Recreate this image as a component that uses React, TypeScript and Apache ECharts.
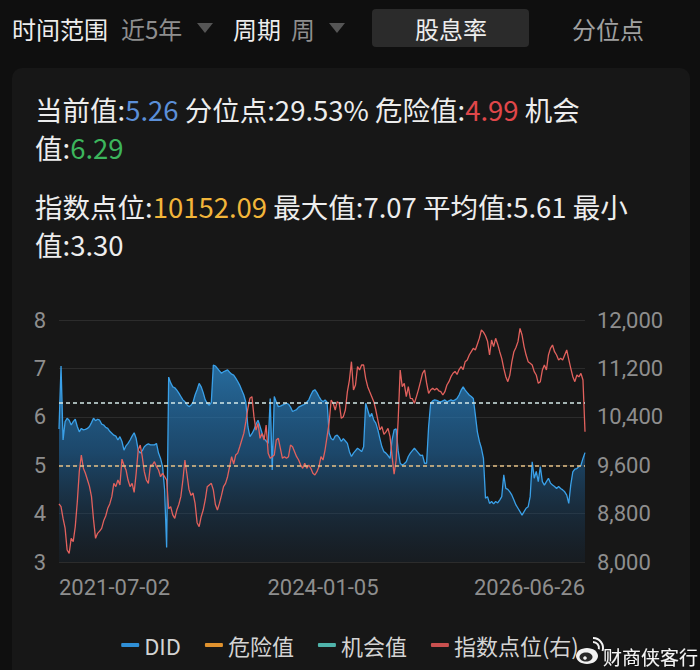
import React, { useEffect, useRef } from "react";
import * as echarts from "echarts";

const FONT = "'Noto Sans CJK SC', 'Noto Sans', sans-serif";
const NUM_FONT = "Roboto, 'Noto Sans', sans-serif";

const DID_A = [5.75,7.05,5.52,5.9,5.97,5.93,5.83,5.9,5.95,5.8,5.69,5.76,5.73,5.74,5.76,5.8,5.88,5.97,5.92,5.95,
  5.93,5.85,5.83,5.78,5.76,5.7,5.66,5.62,5.6,5.52,5.59,5.49,5.31,5.4,5.45,5.52,5.6,5.67,5.55,5.31,
  5.25,5.3,5.38,5.42,5.44,5.42,5.42,5.42,5.45,5.25,5.14,4.97,4.49,3.3,6.82,6.7,6.62,6.6,6.55,6.49,
  6.42,6.35,6.31,6.25,6.21,6.24,6.3,6.45,6.56,6.69,6.62,6.5,6.35,6.28,6.24,6.3,7.07,7.05,7.0,6.95];
const DID_B = [6.9,6.93,6.95,6.97,6.92,6.88,6.86,6.8,6.73,6.65,6.55,6.45,6.3,5.8,5.59,5.65,5.73,5.85,5.93,5.8,
  5.66,5.55,5.5,5.45,6.38,4.9,6.42,6.3,6.21,6.22,6.24,6.26,6.28,6.26,6.2,6.11,6.13,6.15,6.2,6.22,
  6.24,6.26,6.3,6.35,6.45,6.53,6.56,6.5,6.42,6.35,6.31,6.35,6.3,5.66,5.55,5.52,5.6,5.62,5.57,5.49,
  5.55,5.5,5.45,5.28,5.18,5.25,5.3,5.35,5.32,5.28,5.38,6.28,6.14,6.0,6.07,5.93,5.87,5.73,5.55,5.38];
const DID_C = [5.28,5.25,5.2,5.14,5.52,5.73,5.75,5.3,5.04,5.0,5.03,5.07,5.18,5.25,5.3,5.35,5.3,5.25,5.2,5.21,
  5.04,5.04,5.8,6.28,6.33,6.35,6.34,6.32,6.31,6.33,6.35,6.31,6.33,6.35,6.33,6.35,6.38,6.45,6.55,6.62,
  6.55,6.5,6.45,6.42,6.38,6.04,5.69,5.49,5.35,5.14,4.32,4.35,4.21,4.25,4.2,4.25,4.22,4.28,4.35,4.8,
  4.52,4.5,4.45,4.38,4.28,4.18,4.11,4.04,3.97,4.04,4.11,4.14,4.35,5.07,4.73,4.87,4.66,4.97,4.66,4.59];
const DID_D = [4.66,4.73,4.63,4.59,4.56,4.52,4.56,4.52,4.49,4.45,4.38,4.21,4.6,4.86,4.92,4.93,4.97,5.0,5.14,5.26];
const DID = [...DID_A, ...DID_B, ...DID_C, ...DID_D];

const IDX_A = [8960,8914,8720,8560,8198,8143,8391,8336,8583,8990,9500,9768,9550,9466,9360,9250,9080,8700,8391,8474,
  8510,8557,8680,8760,8887,8960,9080,9300,9245,9355,9273,9700,9600,9521,9355,9245,9300,9150,9466,9851,
  9934,9740,9493,9355,9300,9600,9603,9658,9576,9520,9410,9466,9410,9355,8880,8914,8780,8720,8859,8950,
  9080,9355,9686,9450,9200,9100,9140,8969,8650,8583,8749,8859,9025,9245,9273,9300,9190,8950,8859,8969];
const IDX_B = [9100,9245,9300,9410,9576,9741,9620,9768,9800,9906,10016,10126,10320,10540,10705,10733,10402,10181,10292,10044,
  10126,10016,10264,9796,9714,9741,9768,10016,10044,9879,9714,9741,9714,9741,9934,9906,9824,9741,9686,9603,
  9548,9631,9548,9603,9548,9466,9438,9493,9576,9741,9686,9851,10071,10300,10678,10623,10512,10650,10623,10375,
  10402,10512,10815,11008,11311,10843,10926,11229,11174,11256,11256,11036,10898,10815,10733,10650,10512,10347,10182,10237];
const IDX_C = [10110,10150,10209,10072,9750,9450,9686,10347,11174,10900,10953,10733,10898,10705,10700,10623,10733,10850,10981,11118,
  11174,10960,10788,10843,10870,10843,10870,10830,10815,10760,10815,10926,10981,11063,11120,11150,11100,11180,11230,11180,
  11311,11340,11421,11476,11532,11504,11600,11700,11835,11800,11740,11650,11421,11669,11559,11697,11600,11476,11366,11200,
  11063,10981,11091,11311,11476,11545,11642,11862,11752,11560,11421,11311,11284,11256,11146,11091,10953,10981,11173,11256];
const IDX_D = [11173,11421,11532,11587,11476,11421,11339,11366,11339,11421,11504,11350,11201,11063,10981,11091,11060,11118,11008,10152.09];
const INDEX = [...IDX_A, ...IDX_B, ...IDX_C, ...IDX_D];

const DANGER = 4.99;
const CHANCE = 6.29;
const LABEL_DATES = ["2021-07-02", "2024-01-05", "2026-06-26"];
const SKIPPED_WEEK = "2022-02-04";
const LEFT_TICKS = { min: 3, max: 8, interval: 1 };
const RIGHT_TICKS = { min: 8000, max: 12000, interval: 800 };
const LEGEND_NAMES = ["DID", "危险值", "机会值", "指数点位(右)"];

function buildDates(n: number): string[] {
  const out: string[] = [];
  let t = Date.UTC(2021, 6, 2);
  while (out.length < n) {
    const s = new Date(t).toISOString().slice(0, 10);
    if (s !== SKIPPED_WEEK) out.push(s);
    t += 7 * 86400000;
  }
  return out;
}
const DATES = buildDates(DID.length);

export default function App() {
  const ref = useRef<HTMLDivElement>(null);
  useEffect(() => {
    if (!ref.current) return;
    const chart = echarts.init(ref.current, undefined, { renderer: "svg" });
    const white = "#ededed";
    const gray = "#8e8e8e";
    const F = 27.5;
    const LH = 30;
    const rs = (fill: string) => ({ fill, font: `${F}px ${FONT}`, lineHeight: LH });
    const option: any = {
      animation: false,
      backgroundColor: "#0f0f0f",
      textStyle: { fontFamily: FONT },
      graphic: [
        { type: "rect", z: -10, silent: true, shape: { x: 12, y: 68, width: 678, height: 640, r: 10 }, style: { fill: "#171717" } },
        { type: "rect", z: -10, silent: true, shape: { x: 372, y: 9, width: 157, height: 38, r: 4 }, style: { fill: "#2b2b2b" } },
        { type: "text", x: 12, y: 28, style: { text: "时间范围", font: `24px ${FONT}`, fill: white, verticalAlign: "middle" } },
        { type: "text", x: 121, y: 28, style: { text: "近5年", font: `24px ${FONT}`, fill: gray, verticalAlign: "middle" } },
        { type: "polygon", shape: { points: [[197, 23], [213, 23], [205, 33]] }, style: { fill: "#555" } },
        { type: "text", x: 233, y: 28, style: { text: "周期", font: `24px ${FONT}`, fill: white, verticalAlign: "middle" } },
        { type: "text", x: 291, y: 28, style: { text: "周", font: `24px ${FONT}`, fill: gray, verticalAlign: "middle" } },
        { type: "polygon", shape: { points: [[329, 23], [345, 23], [337, 33]] }, style: { fill: "#555" } },
        { type: "text", x: 451, y: 28, style: { text: "股息率", font: `24px ${FONT}`, fill: white, align: "center", verticalAlign: "middle" } },
        { type: "text", x: 608, y: 28, style: { text: "分位点", font: `24px ${FONT}`, fill: "#a0a0a0", align: "center", verticalAlign: "middle" } },
        {
          type: "text", x: 35, y: 109,
          style: {
            text: "{w|当前值:}{b|5.26}{w| 分位点:29.53% 危险值:}{r|4.99}{w| 机会}",
            verticalAlign: "middle",
            rich: { w: rs(white), b: rs("#5b8fd8"), r: rs("#e0474a") },
          },
        },
        {
          type: "text", x: 35, y: 147,
          style: { text: "{w|值:}{g|6.29}", verticalAlign: "middle", rich: { w: rs(white), g: rs("#3cb55c") } },
        },
        {
          type: "text", x: 35, y: 206,
          style: {
            text: "{w|指数点位:}{y|10152.09}{w| 最大值:7.07 平均值:5.61 最小}", verticalAlign: "middle",
            rich: { w: rs(white), y: rs("#f2b53a") },
          },
        },
        {
          type: "text", x: 35, y: 244,
          style: { text: "{w|值:3.30}", verticalAlign: "middle", rich: { w: rs(white) } },
        },
        // watermark
        { type: "ellipse", shape: { cx: 587, cy: 656, rx: 11, ry: 8 }, style: { fill: "#f2f2f2" }, z: 100 },
        { type: "ellipse", shape: { cx: 586, cy: 657, rx: 6.5, ry: 4.5 }, style: { fill: "#2a2a2a" }, z: 100 },
        { type: "circle", shape: { cx: 585, cy: 658, r: 1.8 }, style: { fill: "#f2f2f2" }, z: 100 },
        { type: "arc", shape: { cx: 593, cy: 648, r: 6, startAngle: -Math.PI / 2, endAngle: 0.2 }, style: { stroke: "#f2f2f2", lineWidth: 2, fill: "none" }, z: 100 },
        { type: "arc", shape: { cx: 593, cy: 648, r: 10, startAngle: -Math.PI / 2, endAngle: 0.3 }, style: { stroke: "#f2f2f2", lineWidth: 2, fill: "none" }, z: 100 },
        { type: "text", x: 603, y: 656, z: 100, style: { text: "财商侠客行", font: `19px ${FONT}`, fill: "#f4f4f4", verticalAlign: "middle", textShadowColor: "rgba(0,0,0,0.6)", textShadowBlur: 2 } },
      ],
      legend: {
        data: LEGEND_NAMES,
        left: "center",
        top: 629,
        icon: "roundRect",
        itemWidth: 18,
        itemHeight: 4,
        itemGap: 24,
        textStyle: { color: "#d4d4d4", fontSize: 22, fontFamily: FONT },
      },
      grid: { left: 59, right: 115, top: 320, bottom: 108 },
      xAxis: {
        type: "category",
        data: DATES,
        boundaryGap: false,
        axisLine: { show: false },
        axisTick: { show: false },
        splitLine: { show: false },
        axisLabel: {
          interval: (_i: number, v: string) => LABEL_DATES.includes(v),
          alignMinLabel: "left",
          alignMaxLabel: "right",
          color: gray,
          fontSize: 22,
          margin: 14,
          fontFamily: NUM_FONT,
        },
      },
      yAxis: [
        {
          type: "value", position: "left", ...LEFT_TICKS,
          axisLine: { show: false }, axisTick: { show: false },
          axisLabel: { color: gray, fontSize: 22, margin: 13, fontFamily: NUM_FONT },
          splitLine: { lineStyle: { color: "#2c2c2c", width: 1 } },
        },
        {
          type: "value", position: "right", ...RIGHT_TICKS,
          axisLine: { show: false }, axisTick: { show: false },
          axisLabel: {
            color: gray, fontSize: 22, margin: 12, fontFamily: NUM_FONT,
            formatter: (v: number) => v.toLocaleString("en-US"),
          },
          splitLine: { show: false },
        },
      ],
      series: [
        {
          name: "DID", type: "line", data: DID, yAxisIndex: 0, symbol: "none", z: 2,
          itemStyle: { color: "#2f8fd6" },
          lineStyle: { color: "#3aa0e8", width: 1.3 },
          areaStyle: {
            color: new echarts.graphic.LinearGradient(0, 0, 0, 1, [
              { offset: 0, color: "rgba(46,148,222,0.96)" },
              { offset: 0.45, color: "rgba(32,108,170,0.8)" },
              { offset: 1, color: "rgba(24,48,72,0.3)" },
            ]),
          },
        },
        {
          name: "危险值", type: "line", data: [], yAxisIndex: 0, symbol: "none", z: 3,
          itemStyle: { color: "#e0922e" }, lineStyle: { color: "#e0922e" },
          markLine: {
            silent: true, symbol: "none", label: { show: false },
            lineStyle: { color: "#e6c185", type: [4, 3], width: 1.5 },
            data: [{ yAxis: DANGER }],
          },
        },
        {
          name: "机会值", type: "line", data: [], yAxisIndex: 0, symbol: "none", z: 3,
          itemStyle: { color: "#4fb3aa" }, lineStyle: { color: "#4fb3aa" },
          markLine: {
            silent: true, symbol: "none", label: { show: false },
            lineStyle: { color: "#d3e9e8", type: [4, 3], width: 1.5 },
            data: [{ yAxis: CHANCE }],
          },
        },
        {
          name: "指数点位(右)", type: "line", data: INDEX, yAxisIndex: 1, symbol: "none", z: 4,
          itemStyle: { color: "#c9504f" },
          lineStyle: { color: "#e2615d", width: 1.3 },
        },
      ],
    };
    chart.setOption(option);
    return () => chart.dispose();
  }, []);
  return <div ref={ref} style={{ position: "fixed", left: 0, top: 0, width: 700, height: 670 }} />;
}
